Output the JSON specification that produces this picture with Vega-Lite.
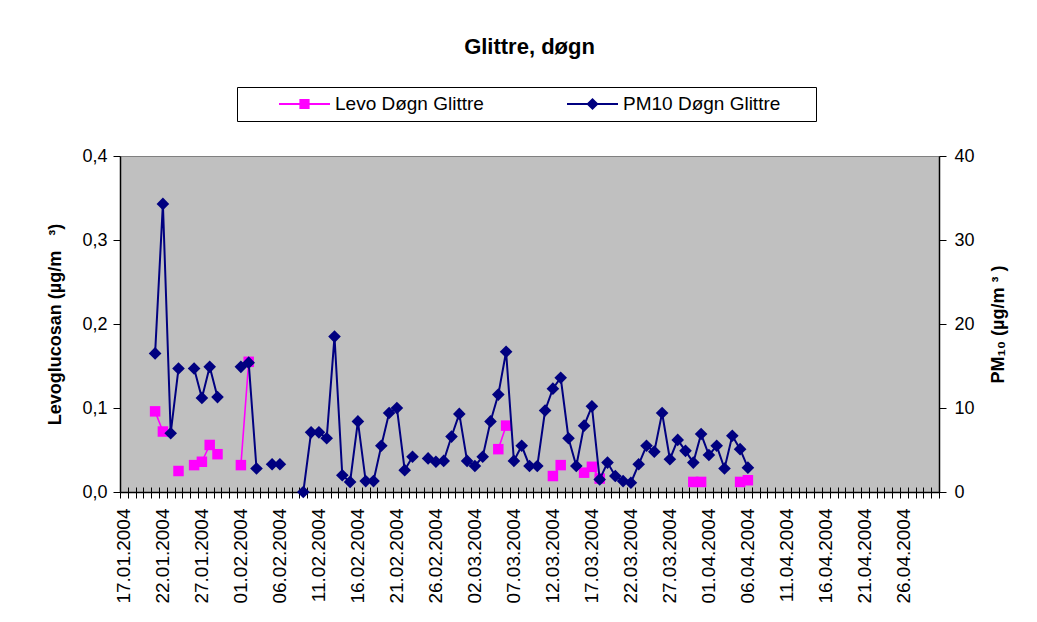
{
  "$schema": "https://vega.github.io/schema/vega-lite/v6.json",
  "width": 819,
  "height": 336,
  "autosize": {"type": "none"},
  "padding": {"left": 120, "top": 156, "right": 98, "bottom": 130},
  "background": "white",
  "config": {
    "font": "Liberation Sans, Arial, sans-serif",
    "view": {"fill": "#C0C0C0", "stroke": "#808080", "strokeWidth": 1},
    "axis": {"grid": false, "labelColor": "black", "titleColor": "black", "tickColor": "black", "domainColor": "black", "labelFont": "Liberation Sans, Arial, sans-serif", "titleFont": "Liberation Sans, Arial, sans-serif"},
    "legend": {"labelFont": "Liberation Sans, Arial, sans-serif"}
  },
  "title": {"text": "Glittre, døgn", "fontSize": 22, "fontWeight": "bold", "anchor": "middle", "offset": 28, "color": "black", "font": "Liberation Sans, Arial, sans-serif"},
  "datasets": {
    "glittre": [
      {"date": "2004-01-21T12:00:00Z", "levo": 0.096, "pm10": 16.5},
      {"date": "2004-01-22T12:00:00Z", "levo": 0.072, "pm10": 34.3},
      {"date": "2004-01-23T12:00:00Z", "levo": null, "pm10": 7.0},
      {"date": "2004-01-24T12:00:00Z", "levo": 0.025, "pm10": 14.7},
      {"date": "2004-01-25T12:00:00Z", "levo": null, "pm10": null},
      {"date": "2004-01-26T12:00:00Z", "levo": 0.032, "pm10": 14.7},
      {"date": "2004-01-27T12:00:00Z", "levo": 0.036, "pm10": 11.2},
      {"date": "2004-01-28T12:00:00Z", "levo": 0.056, "pm10": 14.9},
      {"date": "2004-01-29T12:00:00Z", "levo": 0.045, "pm10": 11.3},
      {"date": "2004-01-30T12:00:00Z", "levo": null, "pm10": null},
      {"date": "2004-01-31T12:00:00Z", "levo": null, "pm10": null},
      {"date": "2004-02-01T12:00:00Z", "levo": 0.032, "pm10": 14.9},
      {"date": "2004-02-02T12:00:00Z", "levo": 0.155, "pm10": 15.4},
      {"date": "2004-02-03T12:00:00Z", "levo": null, "pm10": 2.8},
      {"date": "2004-02-04T12:00:00Z", "levo": null, "pm10": null},
      {"date": "2004-02-05T12:00:00Z", "levo": null, "pm10": 3.3},
      {"date": "2004-02-06T12:00:00Z", "levo": null, "pm10": 3.3},
      {"date": "2004-02-07T12:00:00Z", "levo": null, "pm10": null},
      {"date": "2004-02-08T12:00:00Z", "levo": null, "pm10": null},
      {"date": "2004-02-09T12:00:00Z", "levo": null, "pm10": 0.0},
      {"date": "2004-02-10T12:00:00Z", "levo": null, "pm10": 7.1},
      {"date": "2004-02-11T12:00:00Z", "levo": null, "pm10": 7.1},
      {"date": "2004-02-12T12:00:00Z", "levo": null, "pm10": 6.4},
      {"date": "2004-02-13T12:00:00Z", "levo": null, "pm10": 18.5},
      {"date": "2004-02-14T12:00:00Z", "levo": null, "pm10": 2.0},
      {"date": "2004-02-15T12:00:00Z", "levo": null, "pm10": 1.2},
      {"date": "2004-02-16T12:00:00Z", "levo": null, "pm10": 8.4},
      {"date": "2004-02-17T12:00:00Z", "levo": null, "pm10": 1.3},
      {"date": "2004-02-18T12:00:00Z", "levo": null, "pm10": 1.3},
      {"date": "2004-02-19T12:00:00Z", "levo": null, "pm10": 5.5},
      {"date": "2004-02-20T12:00:00Z", "levo": null, "pm10": 9.4},
      {"date": "2004-02-21T12:00:00Z", "levo": null, "pm10": 10.0},
      {"date": "2004-02-22T12:00:00Z", "levo": null, "pm10": 2.6},
      {"date": "2004-02-23T12:00:00Z", "levo": null, "pm10": 4.2},
      {"date": "2004-02-24T12:00:00Z", "levo": null, "pm10": null},
      {"date": "2004-02-25T12:00:00Z", "levo": null, "pm10": 4.0},
      {"date": "2004-02-26T12:00:00Z", "levo": null, "pm10": 3.6},
      {"date": "2004-02-27T12:00:00Z", "levo": null, "pm10": 3.7},
      {"date": "2004-02-28T12:00:00Z", "levo": null, "pm10": 6.6},
      {"date": "2004-02-29T12:00:00Z", "levo": null, "pm10": 9.3},
      {"date": "2004-03-01T12:00:00Z", "levo": null, "pm10": 3.7},
      {"date": "2004-03-02T12:00:00Z", "levo": null, "pm10": 3.1},
      {"date": "2004-03-03T12:00:00Z", "levo": null, "pm10": 4.2},
      {"date": "2004-03-04T12:00:00Z", "levo": null, "pm10": 8.4},
      {"date": "2004-03-05T12:00:00Z", "levo": 0.051, "pm10": 11.6},
      {"date": "2004-03-06T12:00:00Z", "levo": 0.079, "pm10": 16.7},
      {"date": "2004-03-07T12:00:00Z", "levo": null, "pm10": 3.7},
      {"date": "2004-03-08T12:00:00Z", "levo": null, "pm10": 5.5},
      {"date": "2004-03-09T12:00:00Z", "levo": null, "pm10": 3.1},
      {"date": "2004-03-10T12:00:00Z", "levo": null, "pm10": 3.1},
      {"date": "2004-03-11T12:00:00Z", "levo": null, "pm10": 9.7},
      {"date": "2004-03-12T12:00:00Z", "levo": 0.019, "pm10": 12.3},
      {"date": "2004-03-13T12:00:00Z", "levo": 0.032, "pm10": 13.6},
      {"date": "2004-03-14T12:00:00Z", "levo": null, "pm10": 6.4},
      {"date": "2004-03-15T12:00:00Z", "levo": null, "pm10": 3.1},
      {"date": "2004-03-16T12:00:00Z", "levo": 0.023, "pm10": 7.9},
      {"date": "2004-03-17T12:00:00Z", "levo": 0.030, "pm10": 10.2},
      {"date": "2004-03-18T12:00:00Z", "levo": 0.016, "pm10": 1.5},
      {"date": "2004-03-19T12:00:00Z", "levo": null, "pm10": 3.5},
      {"date": "2004-03-20T12:00:00Z", "levo": null, "pm10": 1.9},
      {"date": "2004-03-21T12:00:00Z", "levo": null, "pm10": 1.3},
      {"date": "2004-03-22T12:00:00Z", "levo": null, "pm10": 1.1},
      {"date": "2004-03-23T12:00:00Z", "levo": null, "pm10": 3.3},
      {"date": "2004-03-24T12:00:00Z", "levo": null, "pm10": 5.5},
      {"date": "2004-03-25T12:00:00Z", "levo": null, "pm10": 4.8},
      {"date": "2004-03-26T12:00:00Z", "levo": null, "pm10": 9.4},
      {"date": "2004-03-27T12:00:00Z", "levo": null, "pm10": 3.9},
      {"date": "2004-03-28T12:00:00Z", "levo": null, "pm10": 6.2},
      {"date": "2004-03-29T12:00:00Z", "levo": null, "pm10": 4.9},
      {"date": "2004-03-30T12:00:00Z", "levo": 0.012, "pm10": 3.5},
      {"date": "2004-03-31T12:00:00Z", "levo": 0.012, "pm10": 6.9},
      {"date": "2004-04-01T12:00:00Z", "levo": null, "pm10": 4.4},
      {"date": "2004-04-02T12:00:00Z", "levo": null, "pm10": 5.5},
      {"date": "2004-04-03T12:00:00Z", "levo": null, "pm10": 2.8},
      {"date": "2004-04-04T12:00:00Z", "levo": null, "pm10": 6.7},
      {"date": "2004-04-05T12:00:00Z", "levo": 0.012, "pm10": 5.1},
      {"date": "2004-04-06T12:00:00Z", "levo": 0.014, "pm10": 2.9}
    ],
    "legendrows": [
      {"series": "Levo Døgn Glittre", "date": "2004-07-01T00:00:00Z"},
      {"series": "PM10 Døgn Glittre", "date": "2004-07-01T00:00:00Z"}
    ]
  },
  "layer": [
    {
      "data": {"name": "glittre"},
      "encoding": {
        "x": {
          "field": "date", "type": "temporal",
          "scale": {"type": "utc", "domain": [{"year": 2004, "month": 1, "date": 17, "utc": true}, {"year": 2004, "month": 5, "date": 1, "utc": true}]},
          "axis": {
            "orient": "bottom", "title": null, "grid": false,
            "tickCount": {"interval": "day", "step": 1},
            "labelExpr": "(round((datum.value - utc(2004,0,17))/86400000) % 5 == 0 && datum.value < utc(2004,4,1)) ? utcFormat(datum.value, '%d.%m.%Y') : ''",
            "labelAngle": 270, "labelOffset": 3.9, "labelPadding": 10, "labelFontSize": 19,
            "labelOverlap": false, "labelFlush": false, "labelBound": false,
            "tickSize": 6, "tickColor": "black", "domainColor": "black", "domainWidth": 1.5
          }
        },
        "y": {
          "field": "levo", "type": "quantitative",
          "scale": {"domain": [0, 0.4], "nice": false},
          "axis": {
            "orient": "left", "values": [0, 0.1, 0.2, 0.3, 0.4],
            "labelExpr": "replace(format(datum.value, '.1f'), '.', ',')",
            "tickSize": 7, "labelPadding": 6, "labelFontSize": 18, "domainWidth": 1.5,
            "title": "Levoglucosan (µg/m\u00a0\u00a0\u00a0³)", "titleFontSize": 18, "titleFontWeight": "bold",
            "titleAngle": 270, "titleX": -65, "titleY": 168, "titleAlign": "center", "titleBaseline": "middle"
          }
        }
      },
      "layer": [
        {"mark": {"type": "line", "color": "#FF00FF", "strokeWidth": 1.6, "invalid": "break-paths-show-domains"}},
        {"mark": {"type": "point", "shape": "square", "filled": true, "color": "#FF00FF", "size": 110, "opacity": 1}}
      ]
    },
    {
      "data": {"name": "glittre"},
      "encoding": {
        "x": {
          "field": "date", "type": "temporal",
          "axis": {
            "orient": "bottom", "title": null, "grid": false, "labels": false, "domain": false,
            "tickCount": {"interval": "day", "step": 1}, "tickSize": -5, "tickColor": "black"
          }
        },
        "y": {
          "field": "pm10", "type": "quantitative",
          "scale": {"domain": [0, 40], "nice": false},
          "axis": {
            "orient": "right", "values": [0, 10, 20, 30, 40],
            "tickSize": 7, "labelPadding": 8, "labelFontSize": 18, "domainWidth": 1.5,
            "title": "PM₁₀ (µg/m\u00a0³\u00a0)", "titleFontSize": 18, "titleFontWeight": "bold",
            "titleAngle": 270, "titleX": 59, "titleY": 168, "titleAlign": "center", "titleBaseline": "middle"
          }
        }
      },
      "layer": [
        {"mark": {"type": "line", "color": "#000080", "strokeWidth": 2, "invalid": "break-paths-show-domains"}},
        {"mark": {"type": "point", "shape": "diamond", "filled": true, "color": "#000080", "size": 160, "opacity": 1}}
      ]
    },
    {
      "data": {"name": "legendrows"},
      "mark": {"type": "point", "filled": true, "clip": true, "size": 2601, "opacity": 1},
      "encoding": {
        "x": {"field": "date", "type": "temporal", "axis": null},
        "color": {
          "field": "series", "type": "nominal",
          "scale": {"domain": ["Levo Døgn Glittre", "PM10 Døgn Glittre"], "range": ["#FF00FF", "#000080"]},
          "legend": {
            "orient": "none", "legendX": 117, "legendY": -69, "direction": "horizontal", "title": null,
            "fillColor": "white", "strokeColor": "black", "padding": 7,
            "symbolSize": 2601, "symbolStrokeWidth": 0, "symbolOpacity": 1, "symbolOffset": 35,
            "clipHeight": 20, "labelOffset": 5, "columnPadding": 48, "labelLimit": 400,
            "labelFontSize": 19, "labelColor": "black",
            "labelExpr": "datum.value == 'PM10 Døgn Glittre' ? datum.label + '\u2800\u2800' : datum.label"
          }
        },
        "shape": {
          "field": "series", "type": "nominal",
          "scale": {"domain": ["Levo Døgn Glittre", "PM10 Døgn Glittre"], "range": ["M-1,-0.04H1V0.04H-1Z M-0.2,-0.2H0.2V0.2H-0.2Z", "M-1,-0.04H1V0.04H-1Z M0,-0.24L0.24,0L0,0.24L-0.24,0Z"]}
        }
      }
    }
  ],
  "resolve": {"scale": {"y": "independent"}, "axis": {"x": "independent", "y": "independent"}}
}
